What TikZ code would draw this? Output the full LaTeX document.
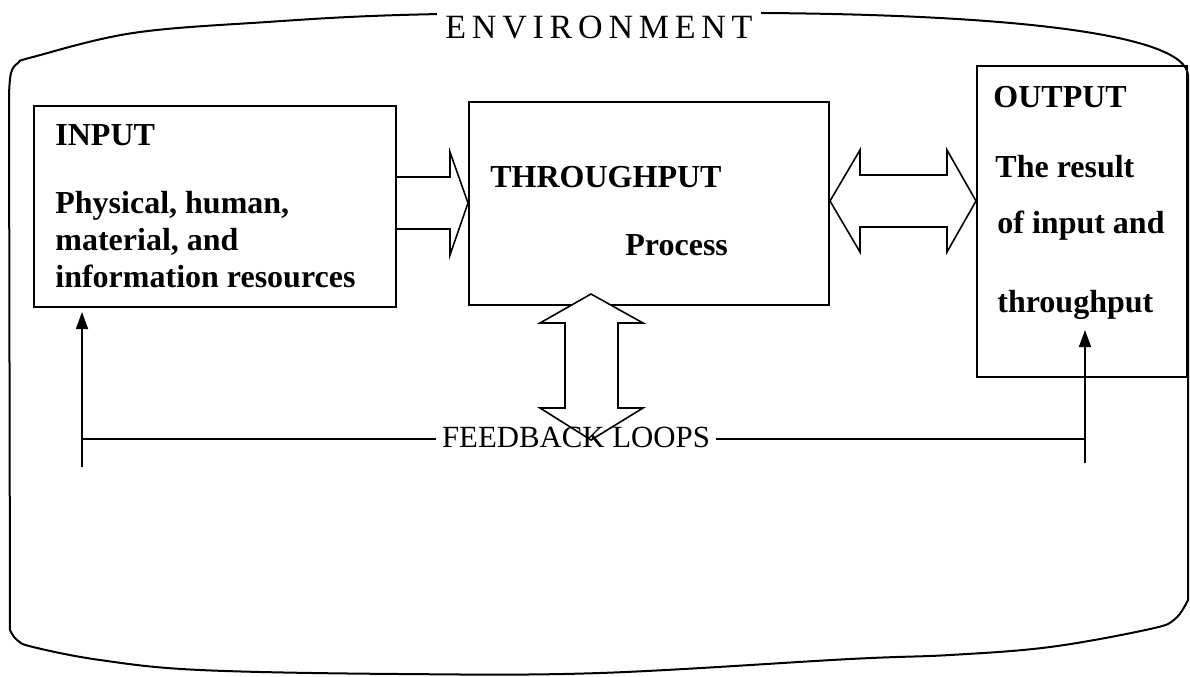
\documentclass[tikz,border=0pt]{standalone}
\usepackage{fontspec}
\setmainfont{Liberation Serif}
\newfontfamily\spacedfont[LetterSpace=17]{Liberation Serif}
\usetikzlibrary{arrows.meta}

\begin{document}
\begin{tikzpicture}[x=0.5pt,y=-0.5pt,line join=miter,
                    >={Triangle[length=8.5pt,width=6pt]}]
  \tikzstyle{box}=[draw,line width=1pt,inner sep=0pt,anchor=north west]
  \tikzstyle{boxtext}=[anchor=base west,inner sep=0pt,font=\fontsize{16}{19}\selectfont\bfseries]
  \tikzstyle{fat arrow}=[draw,fill=white,line width=0.8pt]
  \tikzstyle{loop line}=[line width=0.8pt]

  \useasboundingbox (0,0) rectangle (1190,676);

  % environment outline
  \draw[line width=1pt]
    plot[smooth,tension=0.6] coordinates {(9,95) (11,73) (18,63) (33,57) (133,33) (267,22) (400,15) (600,12) (765,13)}
    .. controls (1020,15) and (1185,35) .. (1188,75)
    -- (1188,598)
    -- plot[smooth,tension=0.6] coordinates {(1188,600) (1175,619) (1150,629) (1050,647) (950,655) (850,659) (600,673) (400,674) (200,670) (100,660) (33,647) (17,640) (10,630)}
    -- cycle;
  \node[fill=white,inner sep=4pt,anchor=base west,font=\spacedfont\fontsize{17}{20}\selectfont] (env) at (437,38) {ENVIRONMENT};

  % the three blocks
  \node[box,minimum width=181pt,minimum height=100.5pt] (input) at (33,105) {};
  \node[box,minimum width=180pt,minimum height=101.5pt] (throughput) at (468,101) {};
  \node[box,minimum width=105pt,minimum height=155.5pt] (output) at (976,65) {};

  % block arrows
  \draw[fat arrow] (input.east |- 0,177) -- (450,177) -- (450,152) -- (throughput.west |- 0,203)
                   -- (450,255) -- (450,229) -- (input.east |- 0,229);
  \draw[fat arrow] (throughput.east |- 0,201) -- (860,150) -- (860,175) -- (947,175) -- (947,150)
                   -- (output.west |- 0,201) -- (947,252) -- (947,227) -- (860,227) -- (860,252) -- cycle;

  \coordinate (ptop) at (591,294);
  \coordinate (pbot) at (591,440);
  \draw[fat arrow] (ptop) -- (643,323) -- (618,323) -- (618,408) -- (643,408) -- (pbot)
                   -- (540,408) -- (565,408) -- (565,323) -- (540,323) -- cycle;

  % block texts
  \node[boxtext] (intitle) at (55,145) {INPUT};
  \node[boxtext] (inline1) at (55,213) {Physical, human,};
  \node[boxtext] (inline2) at (55,250) {material, and};
  \node[boxtext] (inline3) at (55,287) {information resources};

  \node[boxtext] (thtitle) at (490,187) {THROUGHPUT};
  \node[boxtext] (thline1) at (625,255) {Process};

  \node[boxtext] (outtitle) at (993,107) {OUTPUT};
  \node[boxtext] (outline1) at (995,177) {The result};
  \node[boxtext] (outline2) at (997,233) {of input and};
  \node[boxtext] (outline3) at (997,312) {throughput};

  % feedback loops
  \coordinate (fbleft) at (82,467);
  \coordinate (fbright) at (1085,463);
  \coordinate (fbline) at (0,439);
  \coordinate (outtip) at (1085,330);
  \node[anchor=base,inner sep=3pt,font=\fontsize{15.4}{18}\selectfont] (fbtext) at (576,447) {FEEDBACK LOOPS};

  \draw[loop line,->,shorten >=2pt] (fbleft) -- (input.south -| fbleft);
  \draw[loop line,->] (fbright) -- (outtip);
  \draw[loop line] (fbleft |- fbline) -- (fbtext.west |- fbline);
  \draw[loop line] (fbtext.east |- fbline) -- (fbright |- fbline);
\end{tikzpicture}
\end{document}
